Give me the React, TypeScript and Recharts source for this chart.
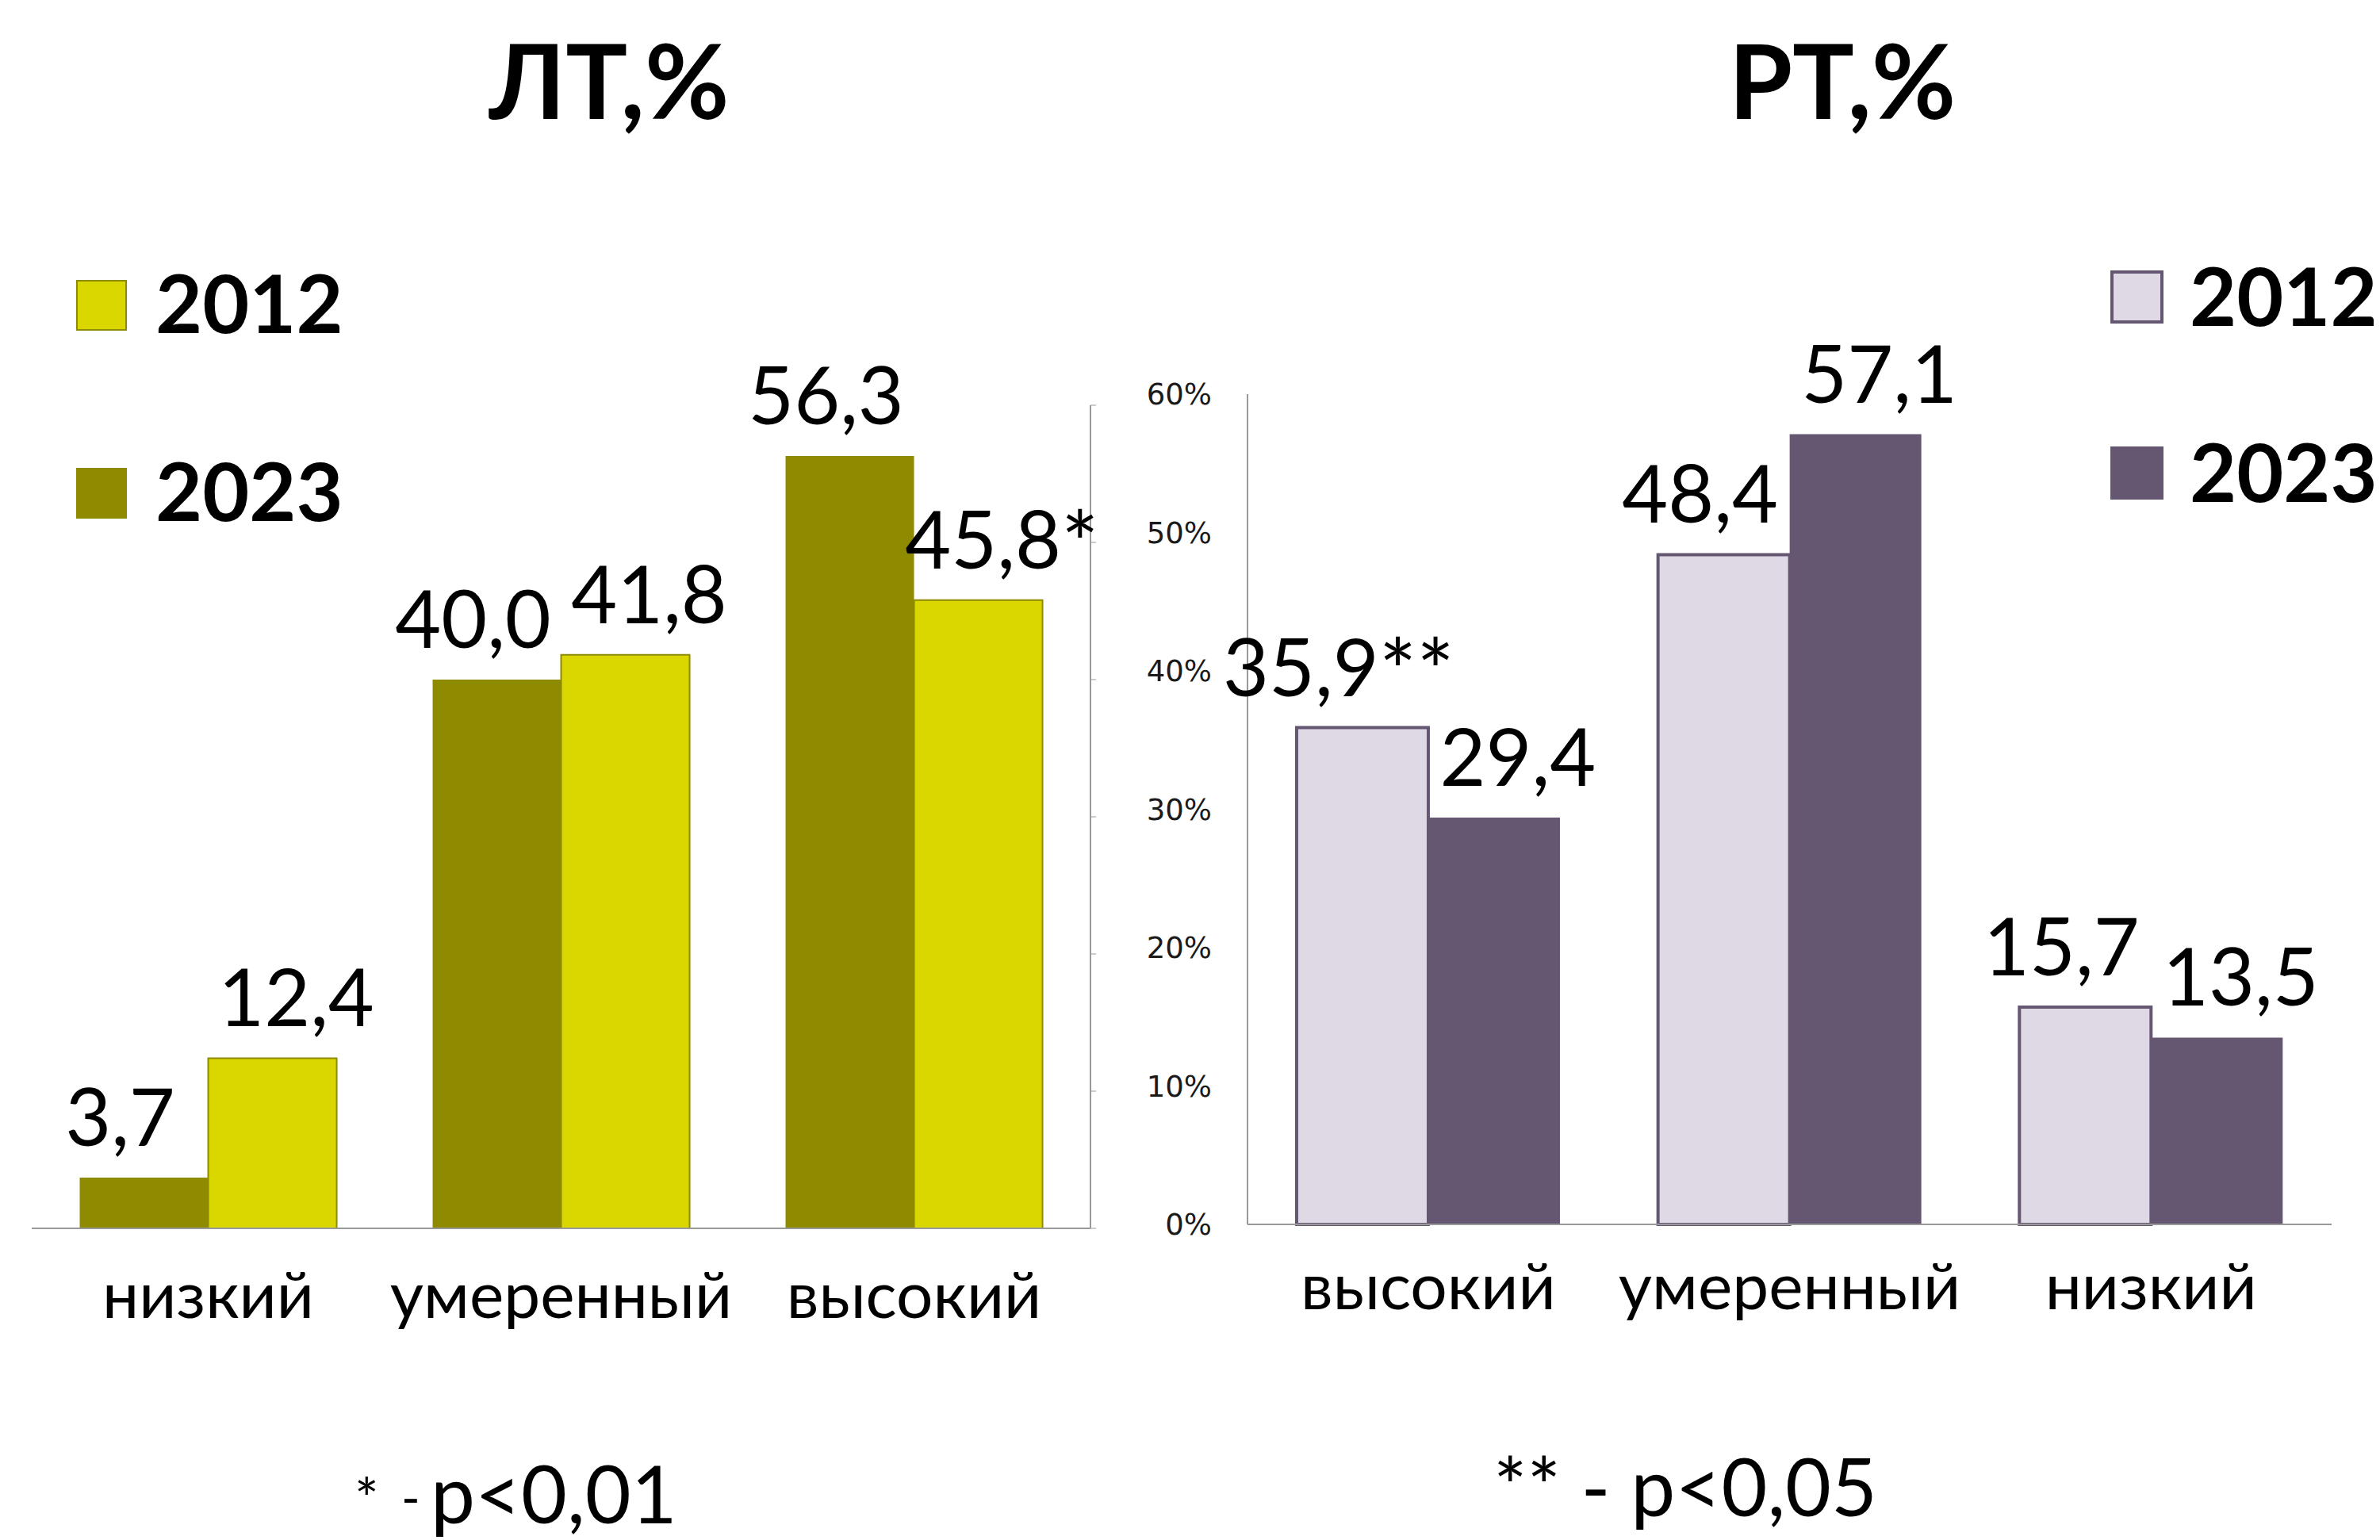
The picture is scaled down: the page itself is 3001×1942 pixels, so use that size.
import React from 'react';
import { BarChart, Bar, XAxis, YAxis, LabelList, Legend } from 'recharts';

// ---------- data ----------
const ltCategories = ['низкий', 'умеренный', 'высокий'];
const lt2012 = [12.4, 41.8, 45.8];
const lt2023 = [3.7, 40.0, 56.3];
const lt2012Marks = ['', '', '*'];
const lt2023Marks = ['', '', ''];

const rtCategories = ['высокий', 'умеренный', 'низкий'];
const rt2012 = [35.9, 48.4, 15.7];
const rt2023 = [29.4, 57.1, 13.5];
const rt2012Marks = ['**', '', ''];
const rt2023Marks = ['', '', ''];

const yTicks = [0, 10, 20, 30, 40, 50, 60];
const seriesYears = ['2012', '2023'];

const ltTitle = 'ЛТ,%';
const rtTitle = 'РТ,%';

// ---------- styles ----------
const FONT = "Lato, 'Open Sans', 'Noto Sans', sans-serif";
const TICK_FONT = "'DejaVu Sans', Verdana, sans-serif";
const YELLOW = '#DAD600';
const OLIVE = '#8F8B00';
const LAVENDER = '#DFD9E6';
const PURPLE = '#655672';
const AXIS = '#999999';

const ltData = ltCategories.map((c, i) => ({ name: c, v2012: lt2012[i], v2023: lt2023[i] }));
const rtData = rtCategories.map((c, i) => ({ name: c, v2012: rt2012[i], v2023: rt2023[i] }));

const fmt = (v: number) => Number(v).toFixed(1).replace('.', ',');

// labels of the left bar in a pair lean left, of the right bar lean right
const makeLabel = (marks: string[], shift: number) => (props: any) => {
  const { x, y, width, value, index } = props;
  const cx = Number(x) + Number(width) / 2 + shift;
  const mark = marks[index] || '';
  return (
    <text x={cx} y={Number(y) - 40} textAnchor="middle" fontFamily={FONT} fontSize={100} fill="#000">
      {fmt(value)}
      {mark ? <tspan fontSize={112} dy={10}>{mark}</tspan> : null}
    </text>
  );
};

const EmptyTick = () => <g />;

type LegendItem = { label: string; fill: string; stroke: string; sw: number };

const LegendSvg = ({ items, size, rowGap, squareTop, baseline }: { items: LegendItem[]; size: number; rowGap: number; squareTop: number; baseline: number }) => (
  <svg width={360} height={340} style={{ overflow: 'visible' }}>
    {items.map((it, i) => (
      <g key={it.label}>
        <rect
          x={it.sw / 2}
          y={squareTop + i * rowGap + it.sw / 2}
          width={size - it.sw}
          height={size - it.sw}
          fill={it.fill}
          stroke={it.stroke}
          strokeWidth={it.sw}
        />
        <text x={100} y={baseline + i * rowGap} fontFamily={FONT} fontWeight={700} fontSize={102} fill="#000">
          {it.label}
        </text>
      </g>
    ))}
  </svg>
);

const ltLegendItems: LegendItem[] = [
  { label: seriesYears[0], fill: YELLOW, stroke: OLIVE, sw: 2 },
  { label: seriesYears[1], fill: OLIVE, stroke: OLIVE, sw: 0 },
];
const rtLegendItems: LegendItem[] = [
  { label: seriesYears[0], fill: LAVENDER, stroke: PURPLE, sw: 4 },
  { label: seriesYears[1], fill: PURPLE, stroke: PURPLE, sw: 0 },
];

export default function App() {
  return (
    <div style={{ position: 'absolute', left: 0, top: 0, width: 3001, height: 1942, background: '#fff', overflow: 'hidden' }}>
      {/* Left chart */}
      <div style={{ position: 'absolute', left: 0, top: 0 }}>
        <BarChart
          width={1500}
          height={1942}
          data={ltData}
          margin={{ top: 511, right: 105, bottom: 243, left: 40 }}
          barGap={0}
          barCategoryGap="13.6%"
        >
          <XAxis
            dataKey="name"
            height={150}
            tickLine={false}
            tickSize={0}
            tickMargin={55}
            axisLine={{ stroke: AXIS, strokeWidth: 2 }}
            tick={{ fontSize: 82, fill: '#000', fontFamily: FONT }}
            interval={0}
          />
          <YAxis
            orientation="right"
            width={20}
            domain={[0, 60]}
            ticks={yTicks}
            tickSize={7}
            tickLine={{ stroke: AXIS, strokeWidth: 1 }}
            axisLine={{ stroke: AXIS, strokeWidth: 2 }}
            tick={<EmptyTick />}
          />
          <Legend
            verticalAlign="middle"
            align="center"
            layout="horizontal"
            wrapperStyle={{ left: 96, top: 340, width: 360, height: 340 }}
            content={() => <LegendSvg items={ltLegendItems} size={64} rowGap={237} squareTop={13} baseline={80} />}
          />
          <Bar dataKey="v2023" name={seriesYears[1]} fill={OLIVE} isAnimationActive={false}>
            <LabelList dataKey="v2023" content={makeLabel(lt2023Marks, -30)} />
          </Bar>
          <Bar dataKey="v2012" name={seriesYears[0]} fill={YELLOW} stroke={OLIVE} strokeWidth={2} isAnimationActive={false}>
            <LabelList dataKey="v2012" content={makeLabel(lt2012Marks, 30)} />
          </Bar>
        </BarChart>
      </div>

      {/* Right chart */}
      <div style={{ position: 'absolute', left: 1400, top: 0 }}>
        <BarChart
          width={1601}
          height={1942}
          data={rtData}
          margin={{ top: 497, right: 61, bottom: 248, left: 100 }}
          barGap={0}
          barCategoryGap="13.6%"
        >
          <XAxis
            dataKey="name"
            height={150}
            tickLine={false}
            tickSize={0}
            tickMargin={49}
            axisLine={{ stroke: AXIS, strokeWidth: 2 }}
            tick={{ fontSize: 82, fill: '#000', fontFamily: FONT }}
            interval={0}
          />
          <YAxis
            orientation="left"
            width={73}
            domain={[0, 60]}
            ticks={yTicks}
            tickSize={0}
            tickMargin={45}
            tickLine={false}
            axisLine={{ stroke: AXIS, strokeWidth: 2 }}
            tick={{ fontSize: 37, fill: '#1a1a1a', fontFamily: TICK_FONT }}
            tickFormatter={(v: number) => `${v}%`}
          />
          <Legend
            verticalAlign="middle"
            align="center"
            layout="horizontal"
            wrapperStyle={{ left: 1261, top: 330, width: 360, height: 340 }}
            content={() => <LegendSvg items={rtLegendItems} size={67} rowGap={222} squareTop={11} baseline={81} />}
          />
          <Bar dataKey="v2012" name={seriesYears[0]} fill={LAVENDER} stroke={PURPLE} strokeWidth={4} isAnimationActive={false}>
            <LabelList dataKey="v2012" content={makeLabel(rt2012Marks, -30)} />
          </Bar>
          <Bar dataKey="v2023" name={seriesYears[1]} fill={PURPLE} isAnimationActive={false}>
            <LabelList dataKey="v2023" content={makeLabel(rt2023Marks, 30)} />
          </Bar>
        </BarChart>
      </div>

      {/* Titles and footnotes */}
      <svg width={3001} height={1942} style={{ position: 'absolute', left: 0, top: 0, pointerEvents: 'none' }}>
        <text x={768} y={150} textAnchor="middle" fontFamily={FONT} fontWeight={700} fontSize={130} fill="#000">
          {ltTitle}
        </text>
        <text x={2323} y={150} textAnchor="middle" fontFamily={FONT} fontWeight={700} fontSize={130} fill="#000">
          {rtTitle}
        </text>
        <text x={447} y={1916} fontFamily={FONT} fontSize={72} fill="#000">*</text>
        <text x={506} y={1912} fontFamily={FONT} fontSize={64} fill="#000">-</text>
        <text x={543} y={1921} fontFamily={FONT} fontSize={100} fill="#000">p&lt;0,01</text>
        <text x={1883} y={1912} fontFamily={FONT} fontSize={100} fill="#000">** - p&lt;0,05</text>
      </svg>
    </div>
  );
}
